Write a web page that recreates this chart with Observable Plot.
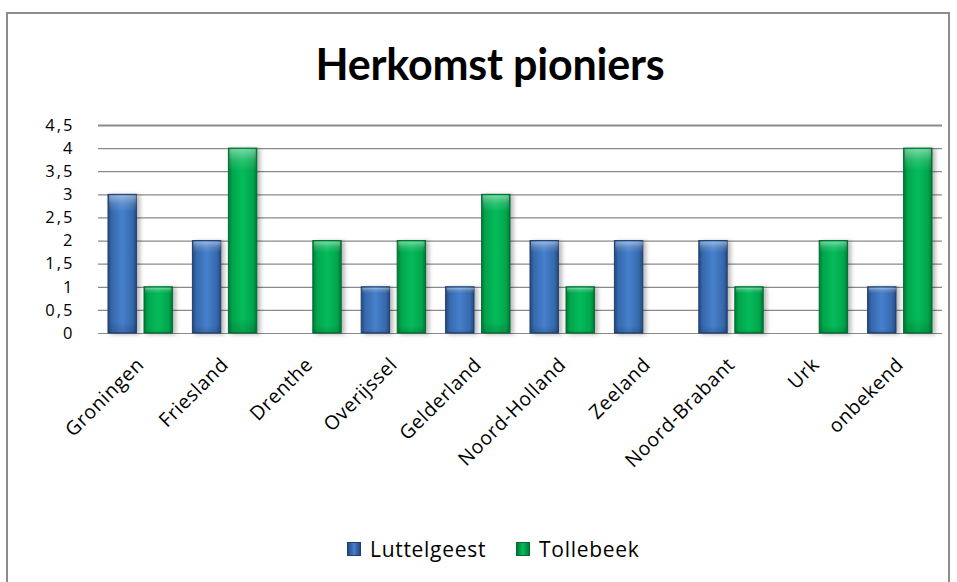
<!DOCTYPE html>
<html>
<head>
<meta charset="utf-8">
<script src="https://cdn.jsdelivr.net/npm/d3@7"></script>
<script src="https://cdn.jsdelivr.net/npm/@observablehq/plot@0.6"></script>
<style>
  html, body { margin: 0; padding: 0; background: #fff; width: 957px; height: 582px; overflow: hidden; }
  #frame { position: absolute; left: 6px; top: 12px; width: 944px; height: 620px; border: 2px solid #8c8c8c; box-sizing: border-box; }
  #title { position: absolute; left: 0; top: 44px; width: 980px; text-align: center; font-family: Lato, "Open Sans", sans-serif; font-weight: 700; font-size: 43px; line-height: 40px; color: #000; letter-spacing: -0.2px; }
  #chart { position: absolute; left: 0; top: 100px; }
  #legend { position: absolute; left: 347px; top: 535px; display: flex; align-items: center; font-family: "Open Sans", sans-serif; font-size: 21px; letter-spacing: 0.7px; color: #000; }
  #legend .sw { width: 14px; height: 14px; box-sizing: border-box; margin-right: 9px; }
  #legend .item { display: flex; align-items: center; margin-right: 30px; }
  g[aria-label="y-axis tick label"] text { letter-spacing: 2px; }
  g[aria-label="x-axis tick label"] text { letter-spacing: 0.6px; }
</style>
</head>
<body>
<div id="frame"></div>
<div id="title">Herkomst pioniers</div>
<div id="chart"></div>
<div id="legend"></div>
<script>
const regions = ["Groningen", "Friesland", "Drenthe", "Overijssel", "Gelderland", "Noord-Holland", "Zeeland", "Noord-Brabant", "Urk", "onbekend"];
const luttelgeest = [3, 2, 0, 1, 1, 2, 2, 2, 0, 1];
const tollebeek = [1, 4, 2, 2, 3, 1, 0, 1, 2, 4];
const seriesNames = ["Luttelgeest", "Tollebeek"];
const yTicks = [0, 0.5, 1, 1.5, 2, 2.5, 3, 3.5, 4, 4.5];

const rowsL = regions.map((r, i) => ({region: r, value: luttelgeest[i]})).filter(d => d.value > 0);
const rowsT = regions.map((r, i) => ({region: r, value: tollebeek[i]})).filter(d => d.value > 0);

const fmt = d => String(d).replace(".", ",");

const plot = Plot.plot({
  width: 957,
  height: 380,
  marginTop: 25,
  marginBottom: 147,
  marginLeft: 98,
  marginRight: 15,
  style: {fontFamily: "'Open Sans', sans-serif", color: "#000", background: "transparent", overflow: "visible"},
  x: {domain: regions, paddingInner: 0.237, paddingOuter: 0.1185, round: false, axis: null, label: null},
  y: {domain: [0, 4.5], axis: null, label: null},
  marks: [
    Plot.ruleY(yTicks.filter(t => t < 4.5), {stroke: "#8a8a8a", strokeWidth: 1.2}),
    Plot.ruleY([4.5], {stroke: "#8a8a8a", strokeWidth: 2}),
    Plot.axisY({ticks: yTicks, tickFormat: fmt, tickSize: 0, tickPadding: 24, fontSize: 16.5, label: null}),
    Plot.axisX({tickRotate: -45, tickSize: 0, tickPadding: 28, fontSize: 19.5, label: null}),
    Plot.barY(rowsL, {x: "region", y: "value", insetRight: 36, fill: "url(#gradL)", stroke: "#1f3f6e", strokeWidth: 1}),
    Plot.barY(rowsT, {x: "region", y: "value", insetLeft: 36, fill: "url(#gradT)", stroke: "#006b30", strokeWidth: 1}),
    Plot.barY(rowsL, {x: "region", y: "value", insetRight: 36, insetTop: 1, insetLeft: 1, fill: "url(#shadeV)"}),
    Plot.barY(rowsT, {x: "region", y: "value", insetLeft: 37, insetTop: 1, insetRight: 1, fill: "url(#shadeV)"})
  ]
});

plot.insertAdjacentHTML("afterbegin", `
<defs>
  <linearGradient id="gradL" x1="0" x2="1" y1="0" y2="0">
    <stop offset="0%" stop-color="#25497f"/>
    <stop offset="14%" stop-color="#3669ad"/>
    <stop offset="50%" stop-color="#4680cc"/>
    <stop offset="86%" stop-color="#3669ad"/>
    <stop offset="100%" stop-color="#25497f"/>
  </linearGradient>
  <linearGradient id="gradT" x1="0" x2="1" y1="0" y2="0">
    <stop offset="0%" stop-color="#007a36"/>
    <stop offset="14%" stop-color="#00a64c"/>
    <stop offset="50%" stop-color="#05bb5a"/>
    <stop offset="86%" stop-color="#00a64c"/>
    <stop offset="100%" stop-color="#007a36"/>
  </linearGradient>
  <linearGradient id="shadeV" x1="0" x2="0" y1="0" y2="1">
    <stop offset="0%" stop-color="#ffffff" stop-opacity="0.45"/>
    <stop offset="6%" stop-color="#ffffff" stop-opacity="0.15"/>
    <stop offset="12%" stop-color="#ffffff" stop-opacity="0"/>
    <stop offset="92%" stop-color="#000000" stop-opacity="0"/>
    <stop offset="100%" stop-color="#000000" stop-opacity="0.15"/>
  </linearGradient>
</defs>`);
plot.querySelectorAll('g[aria-label="bar"]').forEach((g, i) => {
  if (i < 2) g.style.filter = "drop-shadow(3px 1px 2px rgba(0,0,0,0.28))";
});
document.getElementById("chart").appendChild(plot);

const legendBg = {Luttelgeest: "linear-gradient(90deg,#25497f,#4680cc 50%,#25497f)", Tollebeek: "linear-gradient(90deg,#007a36,#05bb5a 50%,#007a36)"};
const legendBorder = {Luttelgeest: "#1f3f6e", Tollebeek: "#006b30"};
const legend = document.getElementById("legend");
seriesNames.forEach(name => {
  const item = document.createElement("div");
  item.className = "item";
  const sw = document.createElement("div");
  sw.className = "sw";
  sw.style.background = legendBg[name];
  sw.style.border = "1px solid " + legendBorder[name];
  const label = document.createElement("span");
  label.textContent = name;
  item.appendChild(sw);
  item.appendChild(label);
  legend.appendChild(item);
});
</script>
</body>
</html>
